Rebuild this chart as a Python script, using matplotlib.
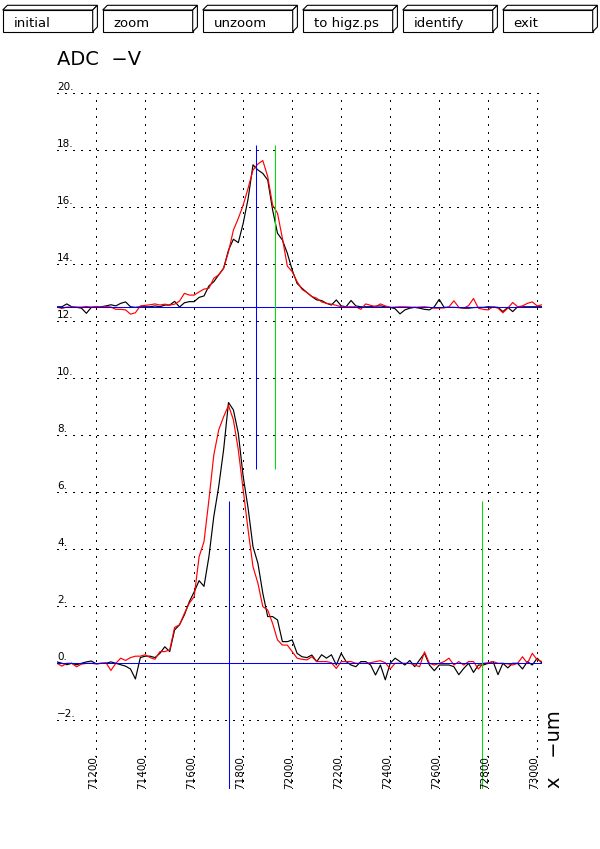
import numpy as np
import matplotlib
matplotlib.use('Agg')
import matplotlib.pyplot as plt
from matplotlib.patches import Polygon, Rectangle

# ---------------- data ----------------
x_um = np.arange(71040, 73021, 20)   # sample positions (um)

lower_black = [0.05, 0.0, -0.05, 0.0, -0.05, 0.0, 0.05, 0.08, -0.02, 0.0,
               0.0, 0.05, 0.0, -0.05, -0.1, -0.2, -0.55, 0.2, 0.25, 0.25,
               0.2, 0.35, 0.58, 0.41, 1.17, 1.35, 1.70, 2.16, 2.51, 2.90,
               2.70, 3.74, 5.15, 6.20, 7.49, 9.15, 8.89, 8.07, 6.55, 5.44,
               4.09, 3.51, 2.46, 1.64, 1.64, 1.52, 0.76, 0.76, 0.82, 0.35,
               0.23, 0.2, 0.29, 0.06, 0.3, 0.18, 0.3, -0.06, 0.35, 0.06,
               -0.06, -0.12, 0.06, 0.06, -0.06, -0.41, -0.06, -0.58, 0.0, 0.18,
               0.06, -0.06, 0.1, -0.12, 0.12, 0.35, -0.06, -0.26, -0.06, -0.06,
               -0.06, -0.12, -0.4, -0.18, 0.0, -0.32, -0.06, -0.06, 0.0, 0.06,
               -0.4, 0.0, -0.16, 0.0, 0.0, -0.2, 0.06, -0.06, 0.18, 0.0]

lower_red = [0.0, -0.1, 0.0, 0.0, -0.12, -0.03, 0.0, 0.0, -0.02, 0.0,
             0.02, -0.25, 0.0, 0.18, 0.1, 0.2, 0.25, 0.25, 0.3, 0.2,
             0.14, 0.41, 0.41, 0.47, 1.26, 1.35, 1.75, 2.11, 2.34, 3.74,
             4.27, 5.73, 7.31, 8.19, 8.65, 9.05, 8.54, 7.49, 6.08, 4.68,
             3.39, 2.81, 1.99, 1.87, 1.40, 0.82, 0.64, 0.64, 0.41, 0.18,
             0.14, 0.12, 0.23, 0.06, 0.06, 0.06, 0.02, -0.18, 0.06, 0.06,
             0.06, 0.0, 0.0, 0.0, 0.02, 0.06, 0.09, 0.02, -0.2, 0.0,
             0.0, 0.0, 0.0, -0.06, -0.12, 0.4, 0.0, -0.06, 0.0, 0.06,
             0.18, -0.06, 0.06, -0.06, 0.06, 0.06, -0.2, 0.0, 0.02, 0.06,
             0.0, 0.0, -0.02, -0.06, 0.0, 0.23, 0.0, 0.35, 0.12, 0.06]

upper_black = [12.51, 12.51, 12.61, 12.51, 12.49, 12.46, 12.28, 12.49, 12.49, 12.51,
               12.54, 12.58, 12.54, 12.63, 12.68, 12.51, 12.49, 12.51, 12.51, 12.51,
               12.54, 12.51, 12.57, 12.57, 12.70, 12.50, 12.65, 12.69, 12.69, 12.84,
               12.89, 13.24, 13.39, 13.63, 13.86, 14.50, 14.88, 14.76, 15.44, 16.30,
               17.49, 17.31, 17.19, 16.96, 15.91, 15.09, 14.85, 14.39, 13.80, 13.33,
               13.16, 13.01, 12.87, 12.75, 12.73, 12.63, 12.57, 12.75, 12.54, 12.51,
               12.73, 12.54, 12.51, 12.51, 12.51, 12.53, 12.54, 12.51, 12.49, 12.44,
               12.26, 12.40, 12.46, 12.49, 12.46, 12.42, 12.40, 12.51, 12.77, 12.49,
               12.49, 12.49, 12.48, 12.46, 12.46, 12.48, 12.49, 12.49, 12.51, 12.50,
               12.49, 12.34, 12.49, 12.34, 12.51, 12.51, 12.51, 12.51, 12.51, 12.51]

upper_red = [12.50, 12.45, 12.50, 12.50, 12.50, 12.50, 12.52, 12.50, 12.52, 12.50,
             12.52, 12.50, 12.42, 12.42, 12.40, 12.25, 12.30, 12.54, 12.56, 12.58,
             12.61, 12.57, 12.60, 12.57, 12.60, 12.71, 12.98, 12.92, 12.92, 13.03,
             13.13, 13.16, 13.51, 13.63, 13.86, 14.44, 15.20, 15.61, 16.08, 16.67,
             17.31, 17.52, 17.64, 17.08, 16.08, 15.79, 14.91, 13.94, 13.74, 13.39,
             13.12, 13.01, 12.87, 12.81, 12.68, 12.63, 12.60, 12.56, 12.51, 12.51,
             12.51, 12.51, 12.42, 12.61, 12.56, 12.51, 12.61, 12.54, 12.49, 12.50,
             12.51, 12.51, 12.50, 12.49, 12.50, 12.51, 12.49, 12.46, 12.46, 12.47,
             12.51, 12.72, 12.49, 12.46, 12.55, 12.80, 12.46, 12.42, 12.40, 12.51,
             12.46, 12.30, 12.46, 12.66, 12.51, 12.54, 12.63, 12.68, 12.54, 12.58]

baselines = [0.0, 12.5]

marker_x = [71853, 71928, 71743, 72773]
marker_lo = [6.8, 6.8, -4.4, -4.4]
marker_hi = [18.2, 18.2, 5.7, 5.7]
marker_colors = ['#0000ff', '#00e000', '#0000ff', '#00e000']

xtick_values = [71200, 71400, 71600, 71800, 72000, 72200, 72400, 72600, 72800, 73000]
ytick_values = [-2, 0, 2, 4, 6, 8, 10, 12, 14, 16, 18, 20]

button_labels = ['initial', 'zoom', 'unzoom', 'to higz.ps', 'identify', 'exit']

y_title = 'ADC  \u2212V'
x_title = 'x   \u2212um'

XMIN, XMAX = 71040, 73020
YMIN, YMAX = -4.4, 20

# ---------------- figure ----------------
W, H = 600, 849
fig = plt.figure(figsize=(W / 100, H / 100), dpi=100)
fig.patch.set_facecolor('white')

# overlay in pixel coordinates
ov = fig.add_axes([0, 0, 1, 1])
ov.set_xlim(0, W)
ov.set_ylim(H, 0)
ov.axis('off')

# buttons
for k, lab in enumerate(button_labels):
    L = 2.7 + 100 * k
    T, B, BW, D = 10, 31.7, 90, 4.7
    ov.add_patch(Rectangle((L, T), BW, B - T, facecolor='white', edgecolor='black', lw=0.8))
    ov.add_patch(Polygon([(L, T), (L + D, T - D), (L + BW + D, T - D), (L + BW, T)],
                         closed=True, facecolor='white', edgecolor='black', lw=0.8))
    ov.add_patch(Polygon([(L + BW, T), (L + BW + D, T - D), (L + BW + D, B - D), (L + BW, B)],
                         closed=True, facecolor='white', edgecolor='black', lw=0.8))
    ov.text(L + 11, 27.3, lab, fontsize=9.5, ha='left', va='baseline', family='DejaVu Sans')

ov.text(57, 65, y_title, fontsize=14, ha='left', va='baseline', family='DejaVu Sans')
ov.text(560, 788, x_title, fontsize=14, ha='left', va='baseline', rotation=90,
        rotation_mode='anchor', family='DejaVu Sans')

# main plot area
left = 57 / W
right_px = 542.1
top_px = 93.3
bottom_px = 788.7
ax = fig.add_axes([left, (H - bottom_px) / H, (right_px - 57) / W, (bottom_px - top_px) / H])
ax.set_xlim(XMIN, XMAX)
ax.set_ylim(YMIN, YMAX)
for s in ax.spines.values():
    s.set_visible(False)
ax.set_facecolor('none')
ax.set_xticks(xtick_values)
ax.set_yticks(ytick_values)
ax.tick_params(length=0, labelbottom=False, labelleft=False)
ax.grid(True, color='black', linestyle=(0, (1, 6)), linewidth=0.75, antialiased=False)
ax.set_axisbelow(True)

ax.plot(x_um, lower_black, color='black', lw=0.85, zorder=3)
ax.plot(x_um, upper_black, color='black', lw=0.85, zorder=3)
ax.plot(x_um, lower_red, color='#ff0000', lw=0.85, zorder=4)
ax.plot(x_um, upper_red, color='#ff0000', lw=0.85, zorder=4)

for b in baselines:
    ax.axhline(b, color='#0000ff', lw=0.75, zorder=5)

ax.vlines(marker_x, marker_lo, marker_hi, colors=marker_colors, lw=0.75, zorder=6)

# tick labels drawn inside the frame
for v in xtick_values:
    ax.text(v, YMIN, f'{v}.', fontsize=7.5, rotation=90, rotation_mode='anchor',
            ha='left', va='baseline', family='DejaVu Sans', zorder=7)
for v in ytick_values:
    lbl = f'{v}.'.replace('-', '\u2212')
    ax.annotate(lbl, xy=(XMIN, v), xytext=(0, 2.2), textcoords='offset points',
                ha='left', va='baseline', fontsize=7.5, family='DejaVu Sans', zorder=7)

fig.savefig('out.png', dpi=100, facecolor='white')
